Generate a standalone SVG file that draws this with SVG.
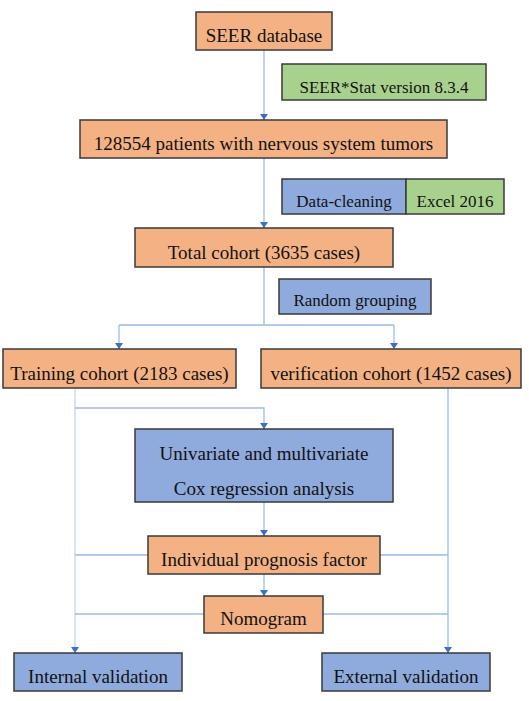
<svg xmlns="http://www.w3.org/2000/svg" width="529" height="701" viewBox="0 0 529 701">
<style>
  .o { fill: #f4b183; stroke: #3a3a3a; stroke-width: 1.5; }
  .b { fill: #8faadc; stroke: #3a3a3a; stroke-width: 1.5; }
  .g { fill: #a9d18e; stroke: #3a3a3a; stroke-width: 1.5; }
  text { font-family: 'Liberation Serif', 'DejaVu Serif', serif; fill: #111; text-anchor: middle; }
  .t { font-size: 19px; }
  .s { font-size: 17px; }
  .c { fill: none; stroke: #9ebbe6; stroke-width: 1.3; }
  .cl { fill: none; stroke: #c4d6f1; stroke-width: 1.3; }
</style>
<defs>
  <marker id="ad" markerUnits="userSpaceOnUse" markerWidth="8" markerHeight="7" viewBox="0 0 8 7" refX="4" refY="7" orient="0">
    <path d="M0,1 L8,1 L4,7 Z" fill="#3e6ec7"/>
  </marker>
</defs>
<rect width="529" height="701" fill="#ffffff"/>
<g id="connectors">
  <path class="c" d="M264,50 V120" marker-end="url(#ad)"/>
  <path class="c" d="M264,158 V228" marker-end="url(#ad)"/>
  <path class="c" d="M264,267 V325 M119,325 H394"/>
  <path class="c" d="M119,325 V349" marker-end="url(#ad)"/>
  <path class="c" d="M394,325 V349" marker-end="url(#ad)"/>
  <path class="cl" d="M75,388 V653" marker-end="url(#ad)"/>
  <path class="c" d="M448,388 V653" marker-end="url(#ad)"/>
  <path class="c" d="M75,408 H264 V429" marker-end="url(#ad)"/>
  <path class="c" d="M264,502 V536" marker-end="url(#ad)"/>
  <path class="c" d="M264,574 V596" marker-end="url(#ad)"/>
  <path class="c" d="M75,555 H148 M380,555 H448"/>
  <path class="c" d="M75,614 H204 M323,614 H448"/>
</g>
<g font-family="Liberation Serif, DejaVu Serif, serif">
<g id="seer-database"><rect class="o" x="196" y="12" width="136" height="38"/><text class="t" x="264" y="42">SEER database</text></g>
<g id="seer-stat"><rect class="g" x="282" y="64" width="204" height="36"/><text class="s" x="384" y="93">SEER*Stat version 8.3.4</text></g>
<g id="patients"><rect class="o" x="80" y="120" width="367" height="38"/><text class="t" x="263.5" y="150">128554 patients with nervous system tumors</text></g>
<g id="data-cleaning"><rect class="b" x="282" y="179" width="124" height="35"/><text class="s" x="344" y="207">Data-cleaning</text></g>
<g id="excel"><rect class="g" x="406" y="179" width="98" height="35"/><text class="s" x="455" y="207">Excel 2016</text></g>
<g id="total-cohort"><rect class="o" x="135" y="228" width="258" height="39"/><text class="t" x="264" y="259">Total cohort (3635 cases)</text></g>
<g id="random-grouping"><rect class="b" x="279" y="279" width="152" height="35"/><text class="s" x="355" y="306">Random grouping</text></g>
<g id="training"><rect class="o" x="3" y="349" width="233" height="39"/><text class="t" x="119.5" y="380">Training cohort (2183 cases)</text></g>
<g id="verification"><rect class="o" x="261" y="349" width="260" height="39"/><text class="t" x="391" y="380">verification cohort (1452 cases)</text></g>
<g id="cox"><rect class="b" x="135" y="429" width="258" height="73"/><text class="t" x="264" y="460">Univariate and multivariate</text><text class="t" x="264" y="495">Cox regression analysis</text></g>
<g id="prognosis"><rect class="o" x="148" y="536" width="232" height="38"/><text class="t" x="264" y="566">Individual prognosis factor</text></g>
<g id="nomogram"><rect class="o" x="204" y="596" width="119" height="37"/><text class="t" x="263.5" y="625">Nomogram</text></g>
<g id="internal"><rect class="b" x="14" y="653" width="168" height="38"/><text class="t" x="98" y="683">Internal validation</text></g>
<g id="external"><rect class="b" x="322" y="653" width="168" height="38"/><text class="t" x="406" y="683">External validation</text></g>
</g>
</svg>
